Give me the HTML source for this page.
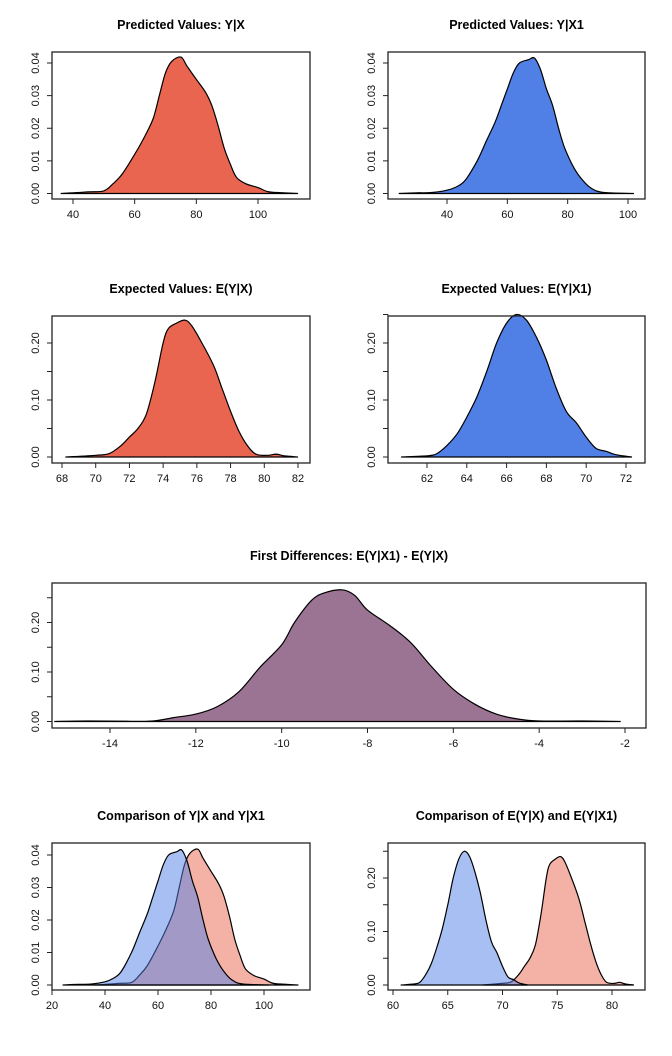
<!DOCTYPE html>
<html><head><meta charset="utf-8">
<style>
body{margin:0;background:#fff;}
svg{display:block;font-family:"Liberation Sans",Arial,sans-serif;}
.t{font-weight:bold;font-size:12.5px;text-anchor:middle;}
.tk{font-size:11px;fill:#111;}
</style></head>
<body>
<svg id="c" width="672" height="1056" viewBox="0 0 672 1056"></svg>
<script>
// ---- data (x, density) ----
const yxX = [36,40,45,50,53,56,60,63,66,68,70,72,75,77,80,83,85,87,89,91,93,96,100,103,106,113];
const yxY = [0,0.0002,0.0005,0.0008,0.003,0.006,0.012,0.017,0.023,0.030,0.037,0.0405,0.0418,0.039,0.035,0.031,0.027,0.021,0.014,0.009,0.005,0.003,0.0018,0.0006,0.0003,0];
const yx1X = [24,30,35,40,43,46,50,53,56,58,60,62,64,67,69,71,73,75,77,79,82,85,88,92,102];
const yx1Y = [0,0.0002,0.0003,0.001,0.002,0.004,0.010,0.016,0.022,0.027,0.032,0.037,0.040,0.041,0.0415,0.038,0.032,0.027,0.020,0.014,0.008,0.004,0.0015,0.0003,0];
const eyxX = [68.2,70,70.8,71.5,72,72.5,73,73.5,74,74.3,74.8,75.3,75.7,76.3,77,77.5,78,78.5,79,79.5,80.2,80.7,81.2,82];
const eyxY = [0,0.003,0.006,0.02,0.035,0.05,0.075,0.13,0.2,0.225,0.235,0.24,0.23,0.2,0.16,0.12,0.08,0.045,0.02,0.005,0.003,0.005,0.002,0];
const eyx1X = [60.7,62,62.5,63,63.5,64,64.5,65,65.5,66,66.5,67,67.5,68,68.5,69,69.5,70,70.5,71,71.5,72.3];
const eyx1Y = [0,0.002,0.006,0.02,0.04,0.07,0.105,0.15,0.2,0.235,0.25,0.24,0.21,0.17,0.12,0.08,0.06,0.035,0.015,0.01,0.004,0];
const fdX = [-15.3,-14.5,-13.5,-13,-12.5,-12,-11.5,-11,-10.5,-10,-9.7,-9.3,-9,-8.6,-8.3,-8,-7.5,-7,-6.5,-6,-5.5,-5,-4.5,-4,-3,-2.1];
const fdY = [0,0.001,0.0005,0.001,0.008,0.015,0.03,0.06,0.11,0.155,0.2,0.245,0.26,0.266,0.255,0.225,0.195,0.16,0.11,0.065,0.035,0.015,0.005,0.001,0.001,0];
// ---- ticks ----
const tickX1 = [40,60,80,100];
const tickX3 = [68,70,72,74,76,78,80,82];
const tickX4 = [62,64,66,68,70,72];
const tickX5 = [-14,-12,-10,-8,-6,-4,-2];
const tickX6 = [20,40,60,80,100];
const tickX7 = [60,65,70,75,80];
const tickYa = [0,0.01,0.02,0.03,0.04];
const labYa = ["0.00","0.01","0.02","0.03","0.04"];
const tickYb = [0,0.05,0.10,0.15,0.20,0.25];
const labYb = ["0.00","","0.10","","0.20",""];
const tickYc = [0,0.05,0.10,0.15,0.20];
const labYc = ["0.00","","0.10","","0.20"];

const svg = document.getElementById('c');
const NS = 'http://www.w3.org/2000/svg';
function mk(tag, at, parent){const e=document.createElementNS(NS,tag);for(const k in at)e.setAttribute(k,at[k]);(parent||svg).appendChild(e);return e;}

function smoothPath(pts){
  let d = 'M'+pts[0][0].toFixed(1)+','+pts[0][1].toFixed(1);
  for(let i=0;i<pts.length-1;i++){
    const p0=pts[Math.max(0,i-1)], p1=pts[i], p2=pts[i+1], p3=pts[Math.min(pts.length-1,i+2)];
    const c1x=p1[0]+(p2[0]-p0[0])/6, c1y=p1[1]+(p2[1]-p0[1])/6;
    const c2x=p2[0]-(p3[0]-p1[0])/6, c2y=p2[1]-(p3[1]-p1[1])/6;
    d += ' C'+c1x.toFixed(1)+','+c1y.toFixed(1)+' '+c2x.toFixed(1)+','+c2y.toFixed(1)+' '+p2[0].toFixed(1)+','+p2[1].toFixed(1);
  }
  return d;
}

function panel(p){
  const g = mk('g',{});
  
  
  const sx = v => p.xa[1] + (v-p.xa[0])*(p.xb[1]-p.xa[1])/(p.xb[0]-p.xa[0]);
  const sy = v => p.ya[1] + (v-p.ya[0])*(p.yb[1]-p.ya[1])/(p.yb[0]-p.ya[0]);
  const tt = mk('text',{x:(p.box[0]+p.box[2])/2,y:p.box[1]-23,class:'t'},g);
  tt.textContent = p.title;
  
  
  p.series.forEach(s=>{
    const pts = s.x.map((v,i)=>[sx(v), sy(s.y[i])]);
    let d = smoothPath(pts) + ' Z';
    const pa = mk('path',{d:d,fill:s.fill,'fill-opacity':s.op||1,stroke:'#000','stroke-width':1.2},g);
    
    
  });
  const b = mk('rect',{x:p.box[0],y:p.box[1],width:p.box[2]-p.box[0],height:p.box[3]-p.box[1],fill:'none',stroke:'#222','stroke-width':1.3},g);
  
  
  const ax = mk('line',{x1:sx(p.tx[0]),x2:sx(p.tx[p.tx.length-1]),y1:p.box[3],y2:p.box[3],stroke:'#222'},g);
  
  
  p.tx.forEach(v=>{
    mk('line',{x1:sx(v),x2:sx(v),y1:p.box[3],y2:p.box[3]+5,stroke:'#222'},g);
    const t = mk('text',{x:sx(v),y:p.box[3]+19,class:'tk','text-anchor':'middle'},g);
    t.textContent = v;
    
    
  });
  const ay = mk('line',{x1:p.box[0],x2:p.box[0],y1:sy(p.ty[0]),y2:sy(p.ty[p.ty.length-1]),stroke:'#222'},g);
  
  
  p.ty.forEach((v,i)=>{
    const y = sy(v);
    mk('line',{x1:p.box[0]-5,x2:p.box[0],y1:y,y2:y,stroke:'#222'},g);
    if(p.ly[i]){
      const x = p.box[0]-13;
      const t = mk('text',{x:x,y:y,class:'tk','text-anchor':'middle',transform:'rotate(-90 '+x+' '+y+')'},g);
      t.textContent = p.ly[i];
      
      
    }
  });
}
const RED='#EA6550', BLUE='#5080E6';
panel({name:'panel-predicted-yx',title:'Predicted Values: Y|X',box:[52,52,310,199],xa:[40,73],xb:[100,258],ya:[0,193.5],yb:[0.04,63],tx:tickX1,ty:tickYa,ly:labYa,
  series:[{x:yxX,y:yxY,fill:RED,name:'density-yx'}]});
panel({name:'panel-predicted-yx1',title:'Predicted Values: Y|X1',box:[388,52,645,199],xa:[40,447],xb:[100,628],ya:[0,193.5],yb:[0.04,63],tx:tickX1,ty:tickYa,ly:labYa,
  series:[{x:yx1X,y:yx1Y,fill:BLUE,name:'density-yx1'}]});
panel({name:'panel-expected-yx',title:'Expected Values: E(Y|X)',box:[52,316,310,463],xa:[68,62],xb:[82,298],ya:[0,457],yb:[0.2,343],tx:tickX3,ty:tickYc,ly:labYc,
  series:[{x:eyxX,y:eyxY,fill:RED,name:'density-eyx'}]});
panel({name:'panel-expected-yx1',title:'Expected Values: E(Y|X1)',box:[388,316,645,463],xa:[62,427],xb:[72,626],ya:[0,457],yb:[0.2,343],tx:tickX4,ty:tickYb,ly:labYb,
  series:[{x:eyx1X,y:eyx1Y,fill:BLUE,name:'density-eyx1'}]});
panel({name:'panel-first-differences',title:'First Differences: E(Y|X1) - E(Y|X)',box:[52,583,646,728],xa:[-14,110],xb:[-2,625],ya:[0,721.5],yb:[0.2,622.5],tx:tickX5,ty:tickYb,ly:labYb,
  series:[{x:fdX,y:fdY,fill:'#9B7393',name:'density-fd'}]});
panel({name:'panel-comparison-y',title:'Comparison of Y|X and Y|X1',box:[52,843,310,990],xa:[20,52],xb:[100,264],ya:[0,985],yb:[0.04,855],tx:tickX6,ty:tickYa,ly:labYa,
  series:[{x:yxX,y:yxY,fill:RED,op:0.5,name:'density-yx'},{x:yx1X,y:yx1Y,fill:BLUE,op:0.5,name:'density-yx1'}]});
panel({name:'panel-comparison-ey',title:'Comparison of E(Y|X) and E(Y|X1)',box:[388,843,645,990],xa:[60,393],xb:[80,612],ya:[0,985],yb:[0.2,878],tx:tickX7,ty:tickYb,ly:labYb,
  series:[{x:eyxX,y:eyxY,fill:RED,op:0.5,name:'density-eyx'},{x:eyx1X,y:eyx1Y,fill:BLUE,op:0.5,name:'density-eyx1'}]});
</script>
</body></html>
